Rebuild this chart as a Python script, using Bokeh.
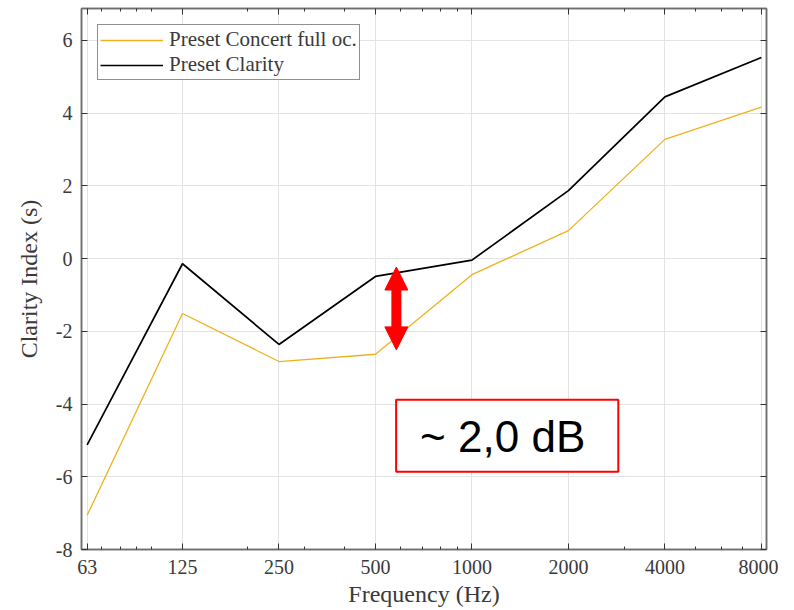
from bokeh.plotting import figure
from bokeh.models import (FixedTicker, LinearAxis, LogAxis, Range1d, Legend, LegendItem,
                          Arrow, NormalHead, BoxAnnotation, Label)
from bokeh.embed import file_html
from bokeh.resources import INLINE

# ---- data ----
freqs = [63, 125, 250, 500, 1000, 2000, 4000, 8000]
freq_labels = ["63", "125", "250", "500", "1000", "2000", "4000", "8000"]
concert_full = [-7.06, -1.51, -2.83, -2.63, -0.44, 0.77, 3.28, 4.17]
clarity = [-5.12, -0.14, -2.36, -0.49, -0.04, 1.87, 4.45, 5.53]
y_ticks = [-8, -6, -4, -2, 0, 2, 4, 6]
y_tick_labels = ["-8", "-6", "-4", "-2", "0", "2", "4", "6"]
minor_x = [70, 80, 90, 100, 200, 300, 400, 600, 700, 800, 900, 3000, 5000, 6000, 7000]
series_names = ["Preset Concert full oc.", "Preset Clarity"]
annot_text = "~ 2,0 dB"

SERIF = "Liberation Serif"
AX_COL = "#6e6e6e"
TXT_COL = "#3a3a3a"

p = figure(width=778, height=609, x_axis_type="log",
           x_range=Range1d(60.5, 8300), y_range=Range1d(-8, 6.88),
           output_backend="svg", toolbar_location=None,
           min_border_left=81, min_border_right=12, min_border_top=8, min_border_bottom=55)

p.outline_line_color = AX_COL
p.outline_line_width = 1.5

xt = FixedTicker(ticks=freqs, minor_ticks=minor_x)
yt = FixedTicker(ticks=y_ticks, minor_ticks=[])

def style_axis(ax, labels=True):
    ax.axis_line_color = AX_COL
    ax.axis_line_width = 1.5
    ax.major_tick_line_color = "#333333"
    ax.minor_tick_line_color = "#333333"
    ax.major_tick_in = 6
    ax.major_tick_out = 0
    ax.minor_tick_in = 3
    ax.minor_tick_out = 0
    ax.major_label_text_font = SERIF
    ax.major_label_text_color = TXT_COL
    ax.major_label_text_font_size = "20px"
    ax.axis_label_text_font = SERIF
    ax.axis_label_text_font_style = "normal"
    ax.axis_label_text_color = TXT_COL
    ax.axis_label_text_font_size = "24px"
    if not labels:
        ax.major_label_text_font_size = "0px"
        ax.major_label_standoff = 0

xa = p.xaxis[0]
xa.ticker = xt
xa.major_label_overrides = {f: l for f, l in zip(freqs, freq_labels)}
xa.axis_label = "Frequency (Hz)"
style_axis(xa)
xa.major_label_standoff = 10
xa.axis_label_standoff = 4

ya = p.yaxis[0]
ya.ticker = yt
ya.major_label_overrides = {t: l for t, l in zip(y_ticks, y_tick_labels)}
ya.axis_label = "Clarity Index (s)"
style_axis(ya)
ya.major_label_standoff = 9
ya.axis_label_standoff = 11

top_ax = LogAxis(ticker=xt)
style_axis(top_ax, labels=False)
top_ax.major_label_overrides = {f: "" for f in freqs}
p.add_layout(top_ax, "above")
right_ax = LinearAxis(ticker=yt)
style_axis(right_ax, labels=False)
right_ax.major_label_overrides = {t: "" for t in y_ticks}
p.add_layout(right_ax, "right")

p.xgrid.ticker = xt
p.ygrid.ticker = yt
p.grid.grid_line_color = "#e3e3e3"
p.grid.grid_line_width = 1

r1 = p.line(freqs, concert_full, line_color="#EDB120", line_width=1.3)
r2 = p.line(freqs, clarity, line_color="#000000", line_width=1.7)

legend = Legend(items=[LegendItem(label=series_names[0], renderers=[r1]),
                       LegendItem(label=series_names[1], renderers=[r2])],
                location="top_left")
legend.margin = 16
legend.padding = 2
legend.spacing = -4
legend.glyph_width = 63
legend.glyph_height = 18
legend.label_height = 18
legend.label_standoff = 6
legend.label_text_font = SERIF
legend.label_text_font_size = "21px"
legend.label_text_line_height = 1.0
legend.label_text_color = TXT_COL
legend.border_line_color = "#222222"
legend.border_line_width = 1
legend.background_fill_alpha = 1
p.add_layout(legend)

# annotation: double arrow and boxed text
arrow = Arrow(start=NormalHead(size=23, fill_color="red", line_color="red"),
              end=NormalHead(size=23, fill_color="red", line_color="red"),
              x_start=581, y_start=-2.51, x_end=581, y_end=-0.23,
              line_color="red", line_width=10)
p.add_layout(arrow)

box = BoxAnnotation(left=580, right=2862, top=-3.88, bottom=-5.86,
                    fill_color="white", fill_alpha=1, line_color="red", line_width=2,
                    line_alpha=1)
p.add_layout(box)

lab = Label(x=1247, y=-4.88, text=annot_text, text_align="center", text_baseline="middle",
            text_font="Liberation Sans", text_font_size="44px", text_color="black")
p.add_layout(lab)

open("out.html", "w").write(file_html(p, INLINE))
